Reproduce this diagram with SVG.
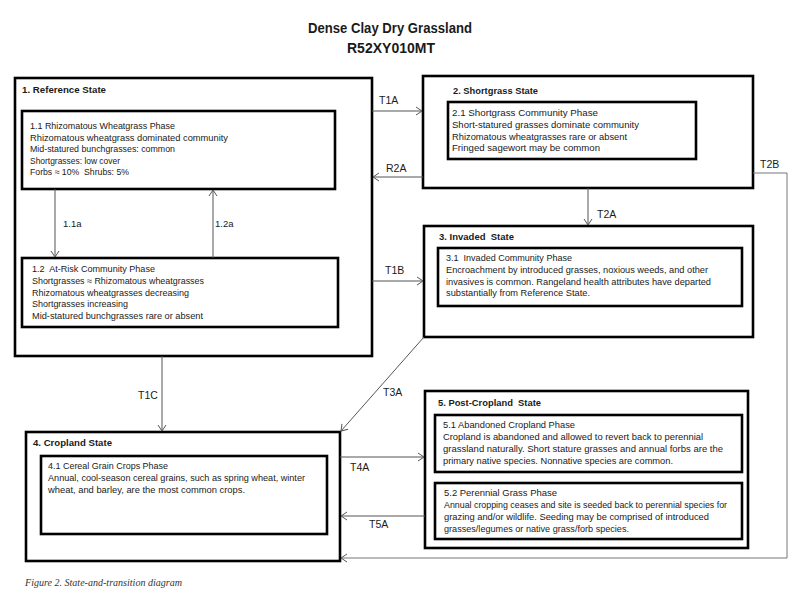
<svg xmlns="http://www.w3.org/2000/svg" width="800" height="600" viewBox="0 0 800 600" xml:space="preserve">
<defs>
<style>
text{white-space:pre}
.state{fill:#fff;stroke:#000;stroke-width:2.6}
.phase{fill:#fff;stroke:#000;stroke-width:2.6}
.t{font-family:"Liberation Sans",Arial,sans-serif;font-size:9.5px;fill:#1a1a1a}
.sl{font-family:"Liberation Sans",Arial,sans-serif;font-size:9.5px;font-weight:bold;fill:#1a1a1a}
.cl{font-family:"Liberation Sans",Arial,sans-serif;font-size:10.5px;fill:#1a1a1a}
.title{font-family:"Liberation Sans",Arial,sans-serif;font-size:14.5px;font-weight:bold;fill:#1a1a1a;text-anchor:middle}
.cap{font-family:"Liberation Serif","Times New Roman",serif;font-size:9.5px;font-style:italic;fill:#333}
.c{fill:none;stroke:#555;stroke-width:1;marker-end:url(#a)}
</style>
<marker id="a" markerWidth="8" markerHeight="10" refX="7" refY="5" orient="auto" markerUnits="userSpaceOnUse">
<path d="M1,1 L7,5 L1,9" fill="none" stroke="#555" stroke-width="1"/>
</marker>
</defs>
<rect width="800" height="600" fill="#fff"/>
<text class="title" x="390" y="33" textLength="164" lengthAdjust="spacingAndGlyphs">Dense Clay Dry Grassland</text>
<text class="title" x="391" y="53" textLength="88" lengthAdjust="spacingAndGlyphs">R52XY010MT</text>

<g id="state1">
<rect class="state" x="15" y="78" width="357" height="278"/>
<text class="sl" x="22" y="93" textLength="84" lengthAdjust="spacingAndGlyphs">1. Reference State</text>
</g>
<g id="phase1-1">
<rect class="phase" x="22" y="111" width="313" height="78"/>
<text class="t" x="30" y="129" textLength="145" lengthAdjust="spacingAndGlyphs">1.1 Rhizomatous Wheatgrass Phase</text>
<text class="t" x="30" y="140.5" textLength="198" lengthAdjust="spacingAndGlyphs">Rhizomatous wheatgrass dominated community</text>
<text class="t" x="30" y="152" textLength="145" lengthAdjust="spacingAndGlyphs">Mid-statured bunchgrasses: common</text>
<text class="t" x="30" y="163.5" textLength="90" lengthAdjust="spacingAndGlyphs">Shortgrasses: low cover</text>
<text class="t" x="30" y="175" textLength="99" lengthAdjust="spacingAndGlyphs">Forbs ≈ 10%  Shrubs: 5%</text>
</g>
<g id="phase1-2">
<rect class="phase" x="22" y="258" width="316" height="69"/>
<text class="t" x="32" y="272" textLength="123" lengthAdjust="spacingAndGlyphs">1.2  At-Risk Community Phase</text>
<text class="t" x="32" y="284" textLength="172" lengthAdjust="spacingAndGlyphs">Shortgrasses ≈ Rhizomatous wheatgrasses</text>
<text class="t" x="32" y="295.5" textLength="157" lengthAdjust="spacingAndGlyphs">Rhizomatous wheatgrasses decreasing</text>
<text class="t" x="32" y="307" textLength="96" lengthAdjust="spacingAndGlyphs">Shortgrasses increasing</text>
<text class="t" x="32" y="319" textLength="171" lengthAdjust="spacingAndGlyphs">Mid-statured bunchgrasses rare or absent</text>
</g>

<g id="state2">
<rect class="state" x="423" y="76" width="330" height="112"/>
<text class="sl" x="453" y="94" textLength="85" lengthAdjust="spacingAndGlyphs">2. Shortgrass State</text>
<rect class="phase" x="448" y="102" width="248" height="57"/>
<text class="t" x="452" y="116" textLength="146" lengthAdjust="spacingAndGlyphs">2.1 Shortgrass Community Phase</text>
<text class="t" x="452" y="128" textLength="187" lengthAdjust="spacingAndGlyphs">Short-statured grasses dominate community</text>
<text class="t" x="452" y="139.5" textLength="175" lengthAdjust="spacingAndGlyphs">Rhizomatous wheatgrasses rare or absent</text>
<text class="t" x="452" y="151" textLength="148" lengthAdjust="spacingAndGlyphs">Fringed sagewort may be common</text>
</g>

<g id="state3">
<rect class="state" x="424" y="226" width="329" height="111"/>
<text class="sl" x="439" y="240" textLength="75" lengthAdjust="spacingAndGlyphs">3. Invaded  State</text>
<rect class="phase" x="438" y="248" width="304" height="58"/>
<text class="t" x="446" y="261" textLength="126" lengthAdjust="spacingAndGlyphs">3.1  Invaded Community Phase</text>
<text class="t" x="446" y="273" textLength="262" lengthAdjust="spacingAndGlyphs">Encroachment by introduced grasses, noxious weeds, and other</text>
<text class="t" x="446" y="284.5" textLength="265" lengthAdjust="spacingAndGlyphs">invasives is common. Rangeland health attributes have departed</text>
<text class="t" x="446" y="296" textLength="144" lengthAdjust="spacingAndGlyphs">substantially from Reference State.</text>
</g>

<g id="state4">
<rect class="state" x="26" y="432" width="314" height="129"/>
<text class="sl" x="33" y="446" textLength="79" lengthAdjust="spacingAndGlyphs">4. Cropland State</text>
<rect class="phase" x="41" y="456" width="286" height="78"/>
<text class="t" x="48" y="469" textLength="120" lengthAdjust="spacingAndGlyphs">4.1 Cereal Grain Crops Phase</text>
<text class="t" x="48" y="481" textLength="257" lengthAdjust="spacingAndGlyphs">Annual, cool-season cereal grains, such as spring wheat, winter</text>
<text class="t" x="48" y="492.5" textLength="197" lengthAdjust="spacingAndGlyphs">wheat, and barley, are the most common crops.</text>
</g>

<g id="state5">
<rect class="state" x="425" y="391" width="323" height="157"/>
<text class="sl" x="438" y="406" textLength="103" lengthAdjust="spacingAndGlyphs">5. Post-Cropland  State</text>
<rect class="phase" x="435" y="415" width="307" height="57"/>
<text class="t" x="443" y="428" textLength="132" lengthAdjust="spacingAndGlyphs">5.1 Abandoned Cropland Phase</text>
<text class="t" x="443" y="440" textLength="260" lengthAdjust="spacingAndGlyphs">Cropland is abandoned and allowed to revert back to perennial</text>
<text class="t" x="443" y="452" textLength="280" lengthAdjust="spacingAndGlyphs">grassland naturally. Short stature grasses and annual forbs are the</text>
<text class="t" x="443" y="464" textLength="230" lengthAdjust="spacingAndGlyphs">primary native species. Nonnative species are common.</text>
<rect class="phase" x="435" y="483" width="307" height="56"/>
<text class="t" x="444" y="496" textLength="113" lengthAdjust="spacingAndGlyphs">5.2 Perennial Grass Phase</text>
<text class="t" x="444" y="508" textLength="283" lengthAdjust="spacingAndGlyphs">Annual cropping ceases and site is seeded back to perennial species for</text>
<text class="t" x="444" y="520" textLength="265" lengthAdjust="spacingAndGlyphs">grazing and/or wildlife. Seeding may be comprised of introduced</text>
<text class="t" x="444" y="532" textLength="185" lengthAdjust="spacingAndGlyphs">grasses/legumes or native grass/forb species.</text>
</g>

<g id="connectors">
<path class="c" d="M55,189 V257"/>
<path class="c" d="M213,258 V190"/>
<path class="c" d="M372,111 H422"/>
<path class="c" d="M423,177 H373"/>
<path class="c" d="M372,281 H423"/>
<path class="c" d="M588,188 V225"/>
<path class="c" d="M753,173 H787 V558 H341" style="stroke:#777"/>
<path class="c" d="M162,356 V431"/>
<path class="c" d="M424,337 L341,431"/>
<path class="c" d="M340,457 H424"/>
<path class="c" d="M425,516 H341"/>
<text class="t" x="63" y="227">1.1a</text>
<text class="t" x="215" y="227">1.2a</text>
<text class="cl" x="379" y="104">T1A</text>
<text class="cl" x="386" y="172">R2A</text>
<text class="cl" x="385" y="274">T1B</text>
<text class="cl" x="597" y="218">T2A</text>
<text class="cl" x="760" y="168">T2B</text>
<text class="cl" x="138" y="399">T1C</text>
<text class="cl" x="383" y="396">T3A</text>
<text class="cl" x="350" y="471">T4A</text>
<text class="cl" x="369" y="528">T5A</text>
</g>
<text class="cap" x="25" y="586" textLength="157" lengthAdjust="spacingAndGlyphs">Figure 2. State-and-transition diagram</text>
</svg>
